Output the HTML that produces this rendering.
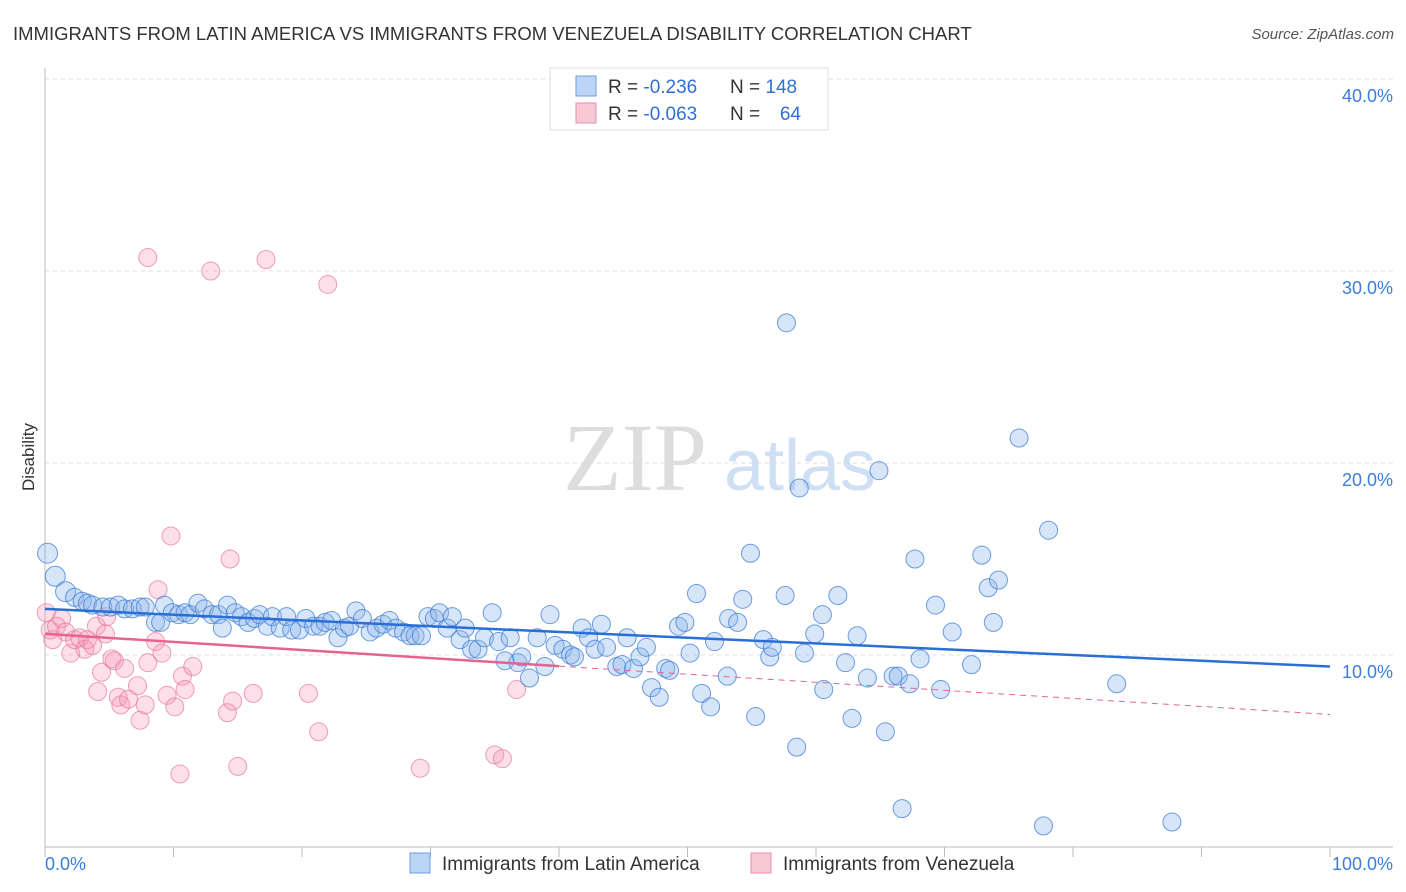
<!DOCTYPE html>
<html><head><meta charset="utf-8"><style>
body{margin:0;background:#fff;font-family:"Liberation Sans",sans-serif}
svg{display:block}
</style></head><body>
<svg id="c" width="1406" height="892" xmlns="http://www.w3.org/2000/svg">
<text x="13" y="40" font-size="18.5" fill="#333">IMMIGRANTS FROM LATIN AMERICA VS IMMIGRANTS FROM VENEZUELA DISABILITY CORRELATION CHART</text>
<text x="1394" y="39" font-size="15" fill="#555" font-style="italic" text-anchor="end">Source: ZipAtlas.com</text>
<text x="34" y="457" font-size="17" fill="#333" text-anchor="middle" transform="rotate(-90 34 457)">Disability</text>
<g>
<text x="635" y="490" font-size="96" fill="#ddd" font-family="Liberation Serif,serif" text-anchor="middle">ZIP</text>
<text x="800" y="490" font-size="72" fill="#cfe0f5" text-anchor="middle">atlas</text>
</g>
<g id="grid"></g>
<g id="axes"></g>
<g id="pts"></g>
<g id="trend"></g>
<g>
<rect x="550" y="68" width="278" height="62" fill="#fff" stroke="#ddd"/>
<rect x="576" y="76" width="20" height="20" fill="#bcd4f6" stroke="#6c9ee0"/>
<rect x="576" y="103" width="20" height="20" fill="#f9c8d6" stroke="#ea8fab"/>
<g font-size="19" fill="#333">
<text x="608" y="93">R = <tspan fill="#2f6fd6">-0.236</tspan></text>
<text x="730" y="93">N = <tspan fill="#2f6fd6">148</tspan></text>
<text x="608" y="120">R = <tspan fill="#2f6fd6">-0.063</tspan></text>
<text x="730" y="120">N = </text>
<text x="801" y="120" fill="#2f6fd6" text-anchor="end">64</text>
</g>
</g>
<g>
<rect x="410" y="853" width="20" height="20" fill="#bcd4f6" stroke="#6c9ee0"/>
<text x="442" y="870" font-size="19" fill="#333">Immigrants from Latin America</text>
<rect x="751" y="853" width="20" height="20" fill="#f9c8d6" stroke="#ea8fab"/>
<text x="783" y="870" font-size="19" fill="#333">Immigrants from Venezuela</text>
</g>
</svg>
<script>
const yTicks=[10,20,30,40];
const yTickLabels=["10.0%","20.0%","30.0%","40.0%"];
const xTicks=[0,10,20,30,40,50,60,70,80,90,100];
const blueX=[0.2,0.8,1.6,2.3,2.9,3.3,3.7,4.5,5.1,5.7,6.2,6.8,7.4,7.8,8.6,9.0,9.3,9.9,10.4,10.9,11.3,11.9,12.4,13.0,13.5,13.8,14.2,14.8,15.3,15.8,16.3,16.7,17.3,17.7,18.3,18.8,19.2,19.8,20.3,20.9,21.4,21.8,22.3,22.8,23.3,23.7,24.2,24.7,25.3,25.8,26.3,26.8,27.3,27.9,28.4,28.8,29.3,29.8,30.3,30.7,31.3,31.7,32.3,32.7,33.2,33.7,34.2,34.8,35.3,35.8,36.2,36.8,37.1,37.7,38.3,38.9,39.3,39.7,40.3,40.9,41.2,41.8,42.3,42.8,43.3,43.7,44.5,44.9,45.3,45.8,46.3,46.8,47.2,47.8,48.3,48.6,49.3,49.8,50.2,50.7,51.1,51.8,52.1,53.1,53.2,53.9,54.3,54.9,55.3,55.9,56.4,56.6,57.6,57.7,58.5,58.7,59.1,59.9,60.5,60.6,61.7,62.3,62.8,63.2,64.0,64.9,65.4,66.0,66.4,66.7,67.3,67.7,68.1,69.3,69.7,70.6,72.1,72.9,73.4,73.8,74.2,75.8,77.7,78.1,83.4,87.7];
const blueY=[15.3,14.1,13.3,13.0,12.8,12.7,12.6,12.5,12.5,12.6,12.4,12.4,12.5,12.5,11.7,11.7,12.6,12.2,12.1,12.2,12.1,12.7,12.4,12.1,12.1,11.4,12.6,12.2,12.0,11.7,11.9,12.1,11.5,12.0,11.4,12.0,11.3,11.3,11.9,11.5,11.5,11.7,11.8,10.9,11.4,11.5,12.3,11.9,11.2,11.4,11.6,11.8,11.4,11.2,11.0,11.0,11.0,12.0,11.9,12.2,11.4,12.0,10.8,11.4,10.3,10.3,10.9,12.2,10.7,9.7,10.9,9.6,9.9,8.8,10.9,9.4,12.1,10.5,10.3,10.0,9.9,11.4,10.9,10.3,11.6,10.4,9.4,9.5,10.9,9.3,9.9,10.4,8.3,7.8,9.3,9.2,11.5,11.7,10.1,13.2,8.0,7.3,10.7,8.9,11.9,11.7,12.9,15.3,6.8,10.8,9.9,10.4,13.1,27.3,5.2,18.7,10.1,11.1,12.1,8.2,13.1,9.6,6.7,11.0,8.8,19.6,6.0,8.9,8.9,2.0,8.5,15.0,9.8,12.6,8.2,11.2,9.5,15.2,13.5,11.7,13.9,21.3,1.1,16.5,8.5,1.3];
const pinkX=[0.1,0.4,0.6,0.9,1.3,1.6,2.0,2.3,2.7,3.1,3.3,3.7,4.0,4.1,4.4,4.7,4.8,5.2,5.4,5.7,5.9,6.2,6.5,7.2,7.4,7.8,8.0,8.0,8.6,8.8,9.1,9.5,9.8,10.1,10.5,10.7,10.9,11.5,12.9,14.2,14.4,14.6,15.0,16.2,17.2,20.5,21.3,22.0,29.2,35.0,35.6,36.7];
const pinkY=[12.2,11.3,10.8,11.5,11.9,11.2,10.1,10.8,10.9,10.3,10.8,10.5,11.5,8.1,9.1,11.1,12.0,9.8,9.7,7.8,7.4,9.3,7.7,8.4,6.6,7.4,9.6,30.7,10.7,13.4,10.1,7.9,16.2,7.3,3.8,8.9,8.2,9.4,30.0,7.0,15.0,7.6,4.2,8.0,30.6,8.0,6.0,29.3,4.1,4.8,4.6,8.2];
const blueTrend=[12.4,9.4];
const pinkTrend=[11.1,6.9];
const pinkSolidEnd=40;
const NS="http://www.w3.org/2000/svg";
const X=v=>45+v*12.85, Y=v=>847-v*19.2;
function mk(t,a,p){const e=document.createElementNS(NS,t);for(const k in a)e.setAttribute(k,a[k]);p.appendChild(e);return e;}
const grid=document.getElementById('grid'),axes=document.getElementById('axes'),pts=document.getElementById('pts'),tr=document.getElementById('trend');
yTicks.forEach((v,i)=>{
 const l=mk('line',{x1:45,x2:1393,y1:Y(v),y2:Y(v),stroke:'#ddd','stroke-dasharray':'4 4'},grid);
 
 
 const t=mk('text',{x:1393,y:Y(v)+23,'font-size':18,fill:'#3b7dd8','text-anchor':'end'},axes);
 t.textContent=yTickLabels[i];
 
 
});
const topLine=mk('line',{x1:45,x2:1393,y1:79,y2:79,stroke:'#ddd','stroke-dasharray':'4 4'},grid);


const ya=mk('line',{x1:45,x2:45,y1:68,y2:847,stroke:'#bbb'},axes);


const xa=mk('line',{x1:45,x2:1393,y1:847,y2:847,stroke:'#bbb'},axes);


xTicks.forEach(v=>{const tk=mk('line',{x1:X(v),x2:X(v),y1:847,y2:857,stroke:'#bbb'},axes);
 
 });
const x0=mk('text',{x:45,y:870,'font-size':18,fill:'#3b7dd8'},axes);x0.textContent='0.0%';


const x1=mk('text',{x:1393,y:870,'font-size':18,fill:'#3b7dd8','text-anchor':'end'},axes);x1.textContent='100.0%';


pinkX.forEach((v,i)=>{const c=mk('circle',{cx:X(v),cy:Y(pinkY[i]),r:9,fill:'rgba(244,150,180,0.3)',stroke:'rgba(232,120,155,0.7)'},pts);
 
 });
blueX.forEach((v,i)=>{const r=i<3?10:9;const c=mk('circle',{cx:X(v),cy:Y(blueY[i]),r:r,fill:'rgba(140,180,235,0.35)',stroke:'rgba(60,125,215,0.75)'},pts);
 
 });
const py=x=>pinkTrend[0]+(pinkTrend[1]-pinkTrend[0])*x/100;
const pd=mk('line',{x1:X(pinkSolidEnd),y1:Y(py(pinkSolidEnd)),x2:X(100),y2:Y(pinkTrend[1]),stroke:'#e5648f','stroke-width':1,'stroke-dasharray':'6 5'},tr);


const ps=mk('line',{x1:X(0),y1:Y(pinkTrend[0]),x2:X(pinkSolidEnd),y2:Y(py(pinkSolidEnd)),stroke:'#e5648f','stroke-width':2.5},tr);


const bl=mk('line',{x1:X(0),y1:Y(blueTrend[0]),x2:X(100),y2:Y(blueTrend[1]),stroke:'#2a6fd6','stroke-width':2.5},tr);


</script>
</body></html>
